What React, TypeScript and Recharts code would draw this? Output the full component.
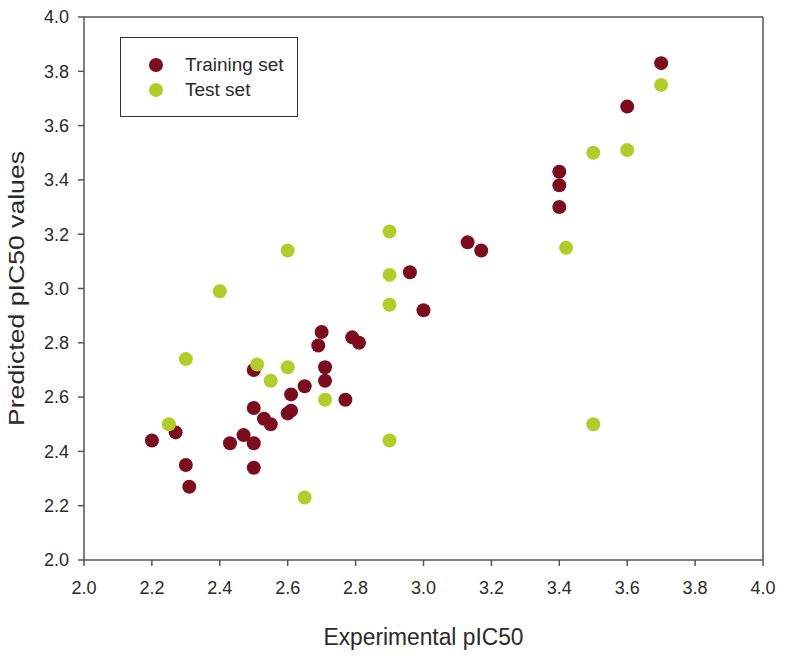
import { ReferenceLine, Scatter, ScatterChart, XAxis, YAxis } from "recharts";

const trainX = [
  2.2, 2.27, 2.3, 2.31, 2.43, 2.47, 2.5, 2.5, 2.5, 2.5, 2.53, 2.55, 2.6, 2.61,
  2.61, 2.65, 2.69, 2.7, 2.71, 2.71, 2.77, 2.79, 2.81, 2.96, 3.0, 3.13, 3.17,
  3.4, 3.4, 3.4, 3.6, 3.7,
];
const trainY = [
  2.44, 2.47, 2.35, 2.27, 2.43, 2.46, 2.43, 2.34, 2.56, 2.7, 2.52, 2.5, 2.54,
  2.55, 2.61, 2.64, 2.79, 2.84, 2.71, 2.66, 2.59, 2.82, 2.8, 3.06, 2.92, 3.17,
  3.14, 3.43, 3.38, 3.3, 3.67, 3.83,
];
const testX = [
  2.25, 2.3, 2.4, 2.51, 2.55, 2.6, 2.6, 2.65, 2.71, 2.9, 2.9, 2.9, 2.9, 3.42,
  3.5, 3.5, 3.6, 3.7,
];
const testY = [
  2.5, 2.74, 2.99, 2.72, 2.66, 2.71, 3.14, 2.23, 2.59, 3.21, 3.05, 2.94, 2.44,
  3.15, 3.5, 2.5, 3.51, 3.75,
];
const ticks = [2.0, 2.2, 2.4, 2.6, 2.8, 3.0, 3.2, 3.4, 3.6, 3.8, 4.0];

const training = trainX.map((x, i) => ({ x, y: trainY[i] }));
const test = testX.map((x, i) => ({ x, y: testY[i] }));

const TRAIN_COLOR = "#7b0d1e";
const TEST_COLOR = "#b2cc2a";
const AXIS_COLOR = "#555";
const TEXT_COLOR = "#2a2a2a";
const FONT = "Arial, 'Liberation Sans', sans-serif";

const dot = (color: string) => (props: any) =>
  <circle cx={props.cx} cy={props.cy} r={7} fill={color} />;

// axis titles as plain svg text so the length can be pinned
const XTitle = ({ viewBox }: any) => (
  <text
    x={viewBox.x + viewBox.width / 2}
    y={viewBox.y + 77}
    textAnchor="middle"
    dominantBaseline="central"
    fontSize={23}
    fontFamily={FONT}
    fill={TEXT_COLOR}
    textLength={200}
    lengthAdjust="spacingAndGlyphs"
  >
    Experimental pIC50
  </text>
);

const YTitle = ({ viewBox }: any) => {
  const cx = 16;
  const cy = viewBox.y + viewBox.height / 2;
  return (
    <text
      x={cx}
      y={cy}
      transform={`rotate(-90 ${cx} ${cy})`}
      textAnchor="middle"
      dominantBaseline="central"
      fontSize={22}
      fontFamily={FONT}
      fill={TEXT_COLOR}
      textLength={275}
      lengthAdjust="spacingAndGlyphs"
    >
      Predicted pIC50 values
    </text>
  );
};

// legend drawn as an overlay so it doesn't eat chart space
const LegendBox = () => (
  <div
    style={{
      position: "absolute",
      left: 120,
      top: 37,
      border: "1.5px solid #333",
      width: 178,
      height: 80,
      boxSizing: "border-box",
      padding: "14px 0 0 27px",
      fontFamily: FONT,
      fontSize: 19,
      color: TEXT_COLOR,
      background: "#fff",
    }}
  >
    {[
      ["Training set", TRAIN_COLOR],
      ["Test set", TEST_COLOR],
    ].map(([name, color]) => (
      <div
        key={name}
        style={{ display: "flex", alignItems: "center", height: 25 }}
      >
        <svg width={16} height={16} style={{ marginRight: 21 }}>
          <circle cx={8} cy={8} r={7} fill={color} />
        </svg>
        <span>{name}</span>
      </div>
    ))}
  </div>
);

const App = () => {
  return (
    <div
      style={{
        position: "absolute",
        left: 0,
        top: 0,
        width: 788,
        height: 667,
        background: "#fff",
      }}
    >
      <ScatterChart
        width={788}
        height={667}
        margin={{ top: 17, right: 25, bottom: 27, left: 0 }}
      >
        <XAxis
          type="number"
          dataKey="x"
          domain={[2, 4]}
          ticks={ticks}
          tickFormatter={(v) => v.toFixed(1)}
          stroke={AXIS_COLOR}
          strokeWidth={1.5}
          tickSize={6}
          tickMargin={15}
          height={80}
          tick={{ fill: TEXT_COLOR, fontSize: 18, fontFamily: FONT }}
          label={<XTitle />}
        />
        <YAxis
          type="number"
          dataKey="y"
          domain={[2, 4]}
          ticks={ticks}
          tickFormatter={(v) => v.toFixed(1)}
          stroke={AXIS_COLOR}
          strokeWidth={1.5}
          tickSize={6}
          tickMargin={9}
          width={84}
          tick={{ fill: TEXT_COLOR, fontSize: 18, fontFamily: FONT }}
          label={<YTitle />}
        />
        <ReferenceLine y={4} stroke={AXIS_COLOR} strokeWidth={1.5} />
        <ReferenceLine x={4} stroke={AXIS_COLOR} strokeWidth={1.5} />
        <Scatter
          name="Training set"
          data={training}
          fill={TRAIN_COLOR}
          shape={dot(TRAIN_COLOR)}
          isAnimationActive={false}
        />
        <Scatter
          name="Test set"
          data={test}
          fill={TEST_COLOR}
          shape={dot(TEST_COLOR)}
          isAnimationActive={false}
        />
      </ScatterChart>
      <LegendBox />
    </div>
  );
};

export default App;
